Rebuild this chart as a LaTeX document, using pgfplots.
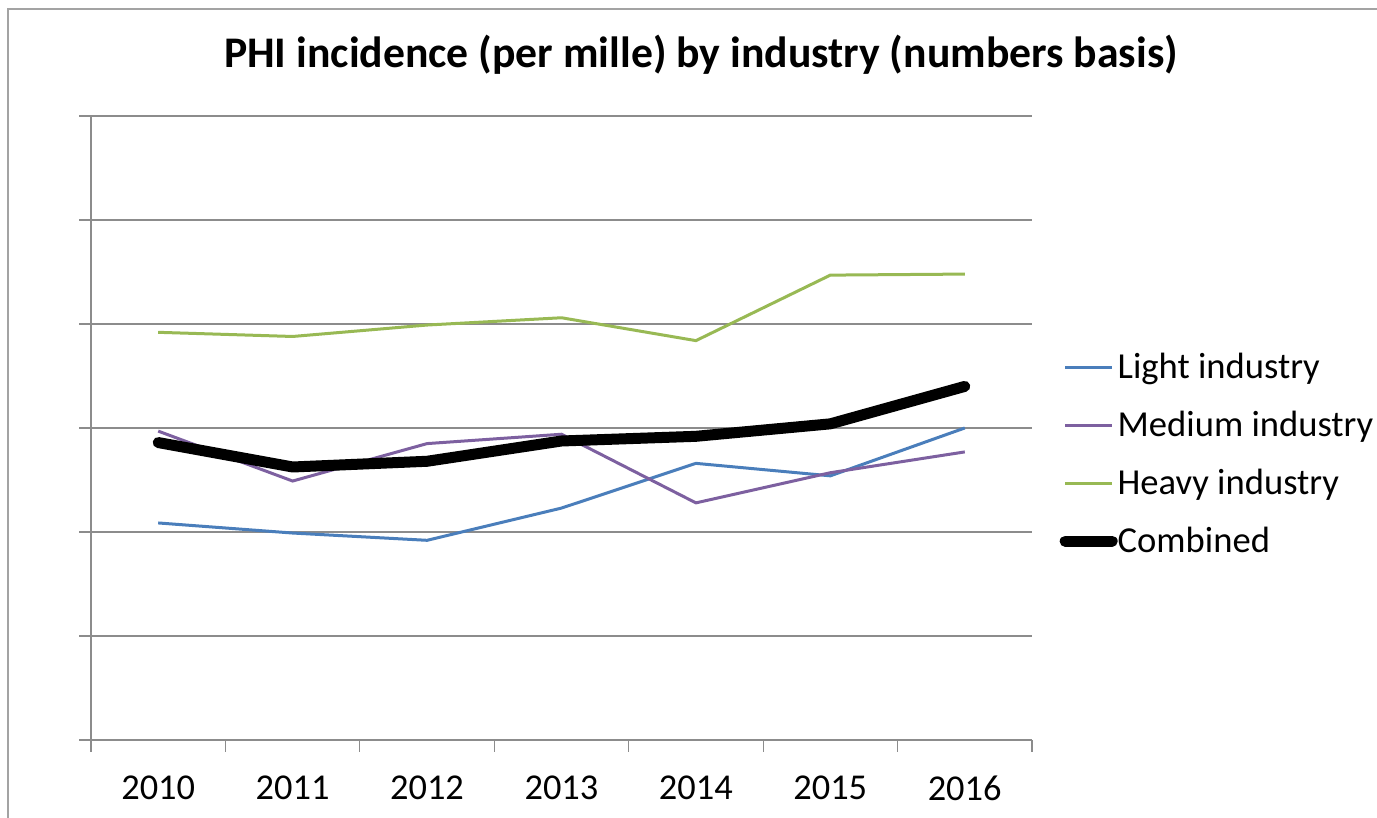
\documentclass[border=0pt]{standalone}
\usepackage{pgfplots}
\pgfplotsset{compat=1.18}
\usepackage{fontspec}
\setmainfont{Carlito}
\definecolor{lightc}{HTML}{4A7EBB}
\definecolor{medc}{HTML}{7D60A0}
\definecolor{heavyc}{HTML}{98B954}
\definecolor{gridc}{HTML}{8C8C8C}
\begin{document}
\begin{tikzpicture}
\useasboundingbox (0pt,0pt) rectangle (688.5pt,409pt);
\draw[gridc!80, line width=1.2pt] (4pt,-1pt) -- (4pt,404.5pt) -- (690pt,404.5pt);
\node[font=\bfseries\fontsize{21.85}{24}\selectfont] at (350.5pt,381.5pt) {PHI incidence (per mille) by industry (numbers basis)};
\begin{axis}[
  at={(45.5pt,39pt)}, anchor=south west,
  scale only axis, width=470.5pt, height=312pt,
  xmin=2009.5, xmax=2016.5, ymin=0, ymax=6,
  axis x line*=bottom, axis y line*=left,
  axis line style={gridc, line width=0.6pt},
  xtick={2010,...,2016},
  minor xtick={2009.5,2010.5,...,2016.5},
  ytick={0,...,6}, yticklabels={},
  ymajorgrids, grid style={gridc, line width=0.6pt},
  tick align=outside,
  major tick length=6pt, minor tick length=6pt,
  x tick style={draw=none},
  minor x tick style={draw=gridc, line width=0.6pt},
  y tick style={gridc, line width=0.6pt},
  /pgf/number format/1000 sep={},
  /pgf/number format/assume math mode=true,
  ticklabel style={font=\fontsize{18.2}{20}\selectfont},
  xticklabel style={yshift=-8.5pt},
  legend style={at={(1.029,0.458)}, anchor=west, draw=none, fill=none,
    font=\fontsize{18.3}{20}\selectfont, row sep=10.75pt, inner sep=0pt,
    nodes={inner xsep=0pt}},
  legend cell align=left,
  legend image code/.code={\draw[#1] (0pt,0pt) -- (23.5pt,0pt);},
]
\addplot[lightc, line width=1.5pt] coordinates {(2010,2.087) (2011,1.99) (2012,1.92) (2013,2.23) (2014,2.66) (2015,2.54) (2016,3.0)};
\addlegendentry{Light industry}
\addplot[medc, line width=1.5pt] coordinates {(2010,2.97) (2011,2.49) (2012,2.85) (2013,2.94) (2014,2.28) (2015,2.57) (2016,2.77)};
\addlegendentry{Medium industry}
\addplot[heavyc, line width=1.5pt] coordinates {(2010,3.92) (2011,3.88) (2012,3.99) (2013,4.06) (2014,3.84) (2015,4.47) (2016,4.48)};
\addlegendentry{Heavy industry}
\addplot[black, line width=5.5pt, line cap=round, line join=round] coordinates {(2010,2.86) (2011,2.625) (2012,2.68) (2013,2.875) (2014,2.92) (2015,3.04) (2016,3.40)};
\addlegendentry{Combined}
\end{axis}
\end{tikzpicture}
\end{document}
